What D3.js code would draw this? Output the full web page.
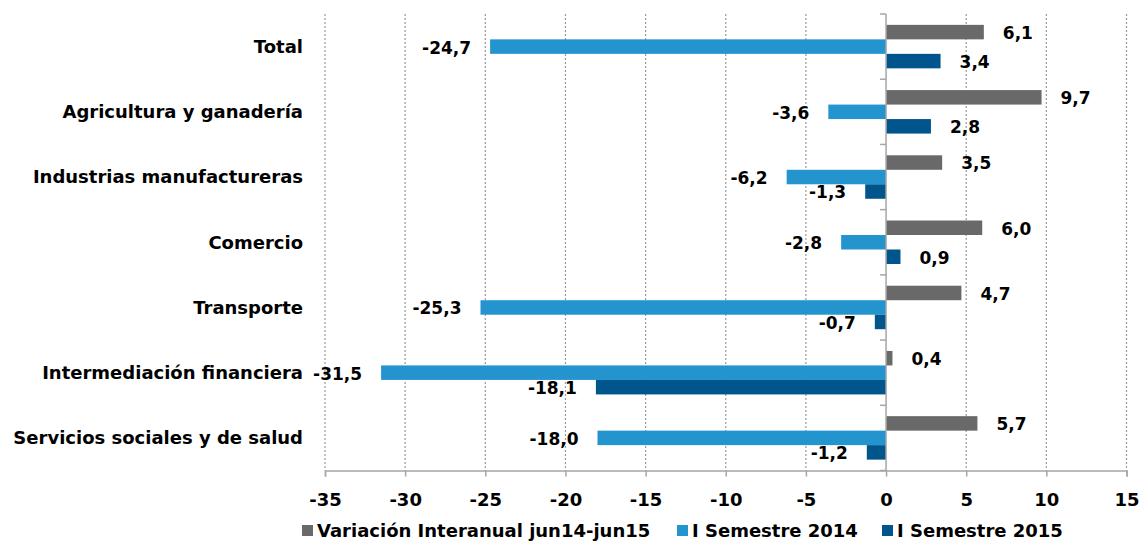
<!DOCTYPE html>
<html>
<head>
<meta charset="utf-8">
<script src="https://cdn.jsdelivr.net/npm/d3@7"></script>
<style>
  body { margin: 0; background: #fff; }
  text { font-family: "DejaVu Sans", sans-serif; font-weight: bold; fill: #000; }
</style>
</head>
<body>
<div class="chart"></div>
<script>
// Data
var categories = [
  "Total",
  "Agricultura y ganadería",
  "Industrias manufactureras",
  "Comercio",
  "Transporte",
  "Intermediación financiera",
  "Servicios sociales y de salud"
];
var seriesNames = ["Variación Interanual jun14-jun15", "I Semestre 2014", "I Semestre 2015"];
var variacion = [6.1, 9.7, 3.5, 6.0, 4.7, 0.4, 5.7];
var semestre2014 = [-24.7, -3.6, -6.2, -2.8, -25.3, -31.5, -18.0];
var semestre2015 = [3.4, 2.8, -1.3, 0.9, -0.7, -18.1, -1.2];
var xTicks = [-35, -30, -25, -20, -15, -10, -5, 0, 5, 10, 15];
var colors = ["#696969", "#2394CE", "#00558C"];

var svgWidth = 1143;
var svgHeight = 542;
var margin = { top: 14, right: 16, bottom: 71, left: 325 };
var plotW = 801.5;
var plotH = 456.5;

var svg = d3.select(".chart")
  .append("svg")
  .attr("width", svgWidth)
  .attr("height", svgHeight);

var chartGroup = svg.append("g")
  .attr("transform", `translate(${margin.left}, ${margin.top})`);

var xScale = d3.scaleLinear()
  .domain([-35, 15])
  .range([0, plotW]);

var yScale = d3.scaleBand()
  .domain(categories)
  .range([0, plotH]);

// inner band: gap width 50% like excel
var groupHeight = yScale.bandwidth() / 1.5;
var ySub = d3.scaleBand()
  .domain([0, 1, 2])
  .range([(yScale.bandwidth() - groupHeight) / 2, (yScale.bandwidth() + groupHeight) / 2]);

// dotted gridlines
chartGroup.selectAll(".grid")
  .data(xTicks.filter(d => d !== 0))
  .enter()
  .append("line")
  .attr("x1", d => xScale(d))
  .attr("x2", d => xScale(d))
  .attr("y1", 0)
  .attr("y2", plotH)
  .attr("stroke", "#9a9a9a")
  .attr("stroke-width", 1.2)
  .attr("stroke-dasharray", "2,2");

// bottom axis
var bottomAxis = d3.axisBottom(xScale)
  .tickValues(xTicks)
  .tickSize(6)
  .tickFormat(d => d);

var xAxis = chartGroup.append("g")
  .attr("transform", `translate(0, ${plotH})`)
  .call(bottomAxis);
xAxis.select(".domain").attr("stroke", "#a6a6a6").attr("stroke-width", 1.5);
xAxis.selectAll(".tick line").attr("stroke", "#a6a6a6").attr("stroke-width", 1.5);
xAxis.selectAll(".tick text")
  .attr("y", 29)
  .attr("dy", "0.35em")
  .style("font-size", "18px");

// series
var series = [variacion, semestre2014, semestre2015];
var rows = [];
series.forEach(function(vals, s) {
  vals.forEach(function(v, i) {
    rows.push({ cat: categories[i], s: s, value: v });
  });
});

chartGroup.selectAll("rect.bar")
  .data(rows)
  .enter()
  .append("rect")
  .attr("class", "bar")
  .attr("x", d => xScale(Math.min(0, d.value)))
  .attr("y", d => yScale(d.cat) + ySub(d.s))
  .attr("width", d => Math.abs(xScale(d.value) - xScale(0)))
  .attr("height", ySub.bandwidth())
  .attr("fill", d => colors[d.s]);

// data labels
chartGroup.selectAll("text.val")
  .data(rows)
  .enter()
  .append("text")
  .attr("class", "val")
  .attr("x", d => d.value >= 0 ? xScale(d.value) + 19 : xScale(d.value) - 19)
  .attr("y", d => yScale(d.cat) + ySub(d.s) + ySub.bandwidth() / 2 + 1)
  .attr("dy", "0.35em")
  .attr("text-anchor", d => d.value >= 0 ? "start" : "end")
  .style("font-size", "17px")
  .text(d => d3.format(".1f")(d.value).replace(".", ",").replace("−", "-"));

// vertical zero axis with category ticks
var zeroAxis = chartGroup.append("g")
  .attr("transform", `translate(${xScale(0)}, 0)`);
zeroAxis.append("line")
  .attr("y1", 0)
  .attr("y2", plotH)
  .attr("stroke", "#a6a6a6")
  .attr("stroke-width", 1.5);
zeroAxis.selectAll(".ctick")
  .data(d3.range(categories.length + 1))
  .enter()
  .append("line")
  .attr("x1", -6)
  .attr("x2", 0)
  .attr("y1", i => i * yScale.step())
  .attr("y2", i => i * yScale.step())
  .attr("stroke", "#a6a6a6")
  .attr("stroke-width", 1.5);

// category labels
chartGroup.selectAll("text.cat")
  .data(categories)
  .enter()
  .append("text")
  .attr("class", "cat")
  .attr("x", -22)
  .attr("y", d => yScale(d) + yScale.bandwidth() / 2)
  .attr("dy", "0.35em")
  .attr("text-anchor", "end")
  .style("font-size", "18px")
  .text(d => d);

// legend
var legendX = [302, 677, 882];
var legend = svg.append("g")
  .attr("transform", `translate(0, 531)`);
seriesNames.forEach(function(name, i) {
  legend.append("rect")
    .attr("x", legendX[i])
    .attr("y", -6)
    .attr("width", 11)
    .attr("height", 11)
    .attr("fill", colors[i]);
  legend.append("text")
    .attr("x", legendX[i] + 15)
    .attr("y", 0)
    .attr("dy", "0.35em")
    .style("font-size", "18px")
    .text(name);
});
</script>
</body>
</html>
